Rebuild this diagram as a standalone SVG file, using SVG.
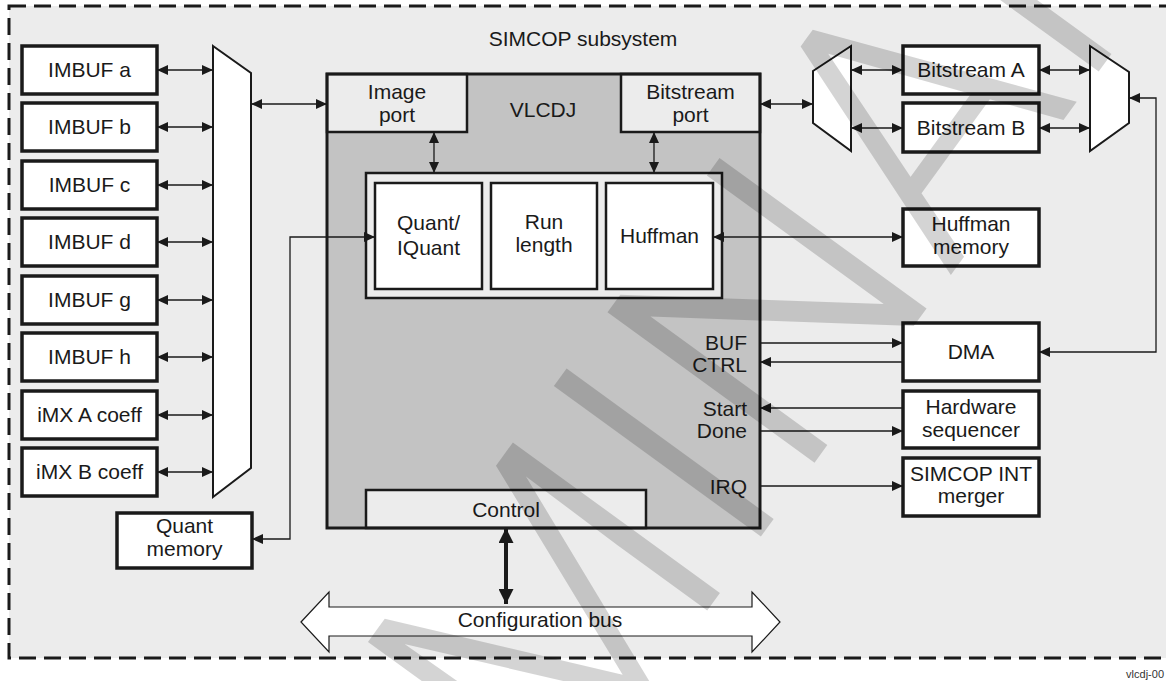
<svg xmlns="http://www.w3.org/2000/svg" width="1166" height="681" viewBox="0 0 1166 681">
<defs>
<style>
.t{font-family:"Liberation Sans",Arial,sans-serif;font-size:21px;fill:#1a1a1a;text-anchor:middle}
.r{text-anchor:end}
.box{fill:#fff;stroke:#1a1a1a;stroke-width:3.5}
.sub{fill:#fff;stroke:#1a1a1a;stroke-width:2.5}
.lt{fill:#ececec;stroke:#1a1a1a;stroke-width:2.5}
.mux{fill:#fff;stroke:#1a1a1a;stroke-width:2}
.ln{fill:none;stroke:#1a1a1a;stroke-width:1.3}
.ab{marker-start:url(#ah);marker-end:url(#ah)}
.ae{marker-end:url(#ah)}
</style>
<marker id="ah" markerUnits="userSpaceOnUse" markerWidth="11" markerHeight="10" refX="11" refY="5" orient="auto-start-reverse" viewBox="0 0 11 10">
<path d="M0,0 L11,5 L0,10 z" fill="#1a1a1a"/>
</marker>
<marker id="ahb" markerUnits="userSpaceOnUse" markerWidth="15" markerHeight="15" refX="15" refY="7.5" orient="auto-start-reverse" viewBox="0 0 15 15">
<path d="M0,0 L15,7.5 L0,15 z" fill="#1a1a1a"/>
</marker>
</defs>

<rect id="bg" x="0" y="0" width="1166" height="681" fill="#fff"/>
<g id="subsystem">
<rect x="9" y="6" width="1175" height="652" fill="#ececec" stroke="#1a1a1a" stroke-width="3" stroke-dasharray="17 8"/>
<text class="t" x="583" y="46">SIMCOP subsystem</text>
</g>

<g id="imbuf-a"><rect class="box" x="22" y="46" width="135" height="48"/><text class="t" x="89.5" y="77">IMBUF a</text></g>
<g id="imbuf-b"><rect class="box" x="22" y="103" width="135" height="48"/><text class="t" x="89.5" y="134">IMBUF b</text></g>
<g id="imbuf-c"><rect class="box" x="22" y="161" width="135" height="48"/><text class="t" x="89.5" y="192">IMBUF c</text></g>
<g id="imbuf-d"><rect class="box" x="22" y="218" width="135" height="48"/><text class="t" x="89.5" y="249">IMBUF d</text></g>
<g id="imbuf-g"><rect class="box" x="22" y="276" width="135" height="48"/><text class="t" x="89.5" y="307">IMBUF g</text></g>
<g id="imbuf-h"><rect class="box" x="22" y="333" width="135" height="48"/><text class="t" x="89.5" y="364">IMBUF h</text></g>
<g id="imx-a"><rect class="box" x="22" y="391" width="135" height="48"/><text class="t" x="89.5" y="422">iMX A coeff</text></g>
<g id="imx-b"><rect class="box" x="22" y="448" width="135" height="48"/><text class="t" x="89.5" y="479">iMX B coeff</text></g>

<g id="mux-left"><polygon class="mux" points="213,46 251,73 251,468 213,497"/></g>

<g id="quant-memory"><rect class="box" x="117" y="513" width="135" height="55"/><text class="t" x="184.5" y="533">Quant</text><text class="t" x="184.5" y="556">memory</text></g>

<g id="vlcdj">
<rect x="327" y="74" width="433" height="454" fill="#c3c3c3"/>
<text class="t" x="543" y="117">VLCDJ</text>
</g>
<g id="image-port"><rect class="lt" x="327" y="74" width="140" height="58"/><text class="t" x="397" y="99">Image</text><text class="t" x="397" y="122">port</text></g>
<g id="bitstream-port"><rect class="lt" x="621" y="74" width="139" height="58"/><text class="t" x="690.5" y="99">Bitstream</text><text class="t" x="690.5" y="122">port</text></g>
<g id="control"><rect class="lt" x="366" y="490" width="280" height="38"/><text class="t" x="506" y="517">Control</text></g>
<g id="vlcdj-border"><rect x="327" y="74" width="433" height="454" fill="none" stroke="#1a1a1a" stroke-width="3"/></g>

<g id="core">
<rect class="lt" x="366" y="173" width="356" height="125"/>
</g>
<g id="quant"><rect class="sub" x="375" y="183" width="107" height="106"/><text class="t" x="428.5" y="230">Quant/</text><text class="t" x="428.5" y="255">IQuant</text></g>
<g id="runlength"><rect class="sub" x="491" y="183" width="106" height="106"/><text class="t" x="544" y="229">Run</text><text class="t" x="544" y="252">length</text></g>
<g id="huffman"><rect class="sub" x="606" y="183" width="107" height="106"/><text class="t" x="659.5" y="243">Huffman</text></g>

<g id="signals">
<text class="t r" x="747" y="350">BUF</text>
<text class="t r" x="747" y="372">CTRL</text>
<text class="t r" x="747" y="416">Start</text>
<text class="t r" x="747" y="438">Done</text>
<text class="t r" x="747" y="494">IRQ</text>
</g>

<g id="mux-bs1"><polygon class="mux" points="813,71 851,46 851,151 813,123"/></g>
<g id="mux-bs2"><polygon class="mux" points="1090,46 1129,72 1129,123 1090,151"/></g>
<g id="bitstream-a"><rect class="box" x="903" y="46" width="136" height="48"/><text class="t" x="971" y="77">Bitstream A</text></g>
<g id="bitstream-b"><rect class="box" x="903" y="103" width="136" height="49"/><text class="t" x="971" y="135">Bitstream B</text></g>
<g id="huffman-memory"><rect class="box" x="903" y="209" width="136" height="57"/><text class="t" x="971" y="231">Huffman</text><text class="t" x="971" y="254">memory</text></g>
<g id="dma"><rect class="box" x="903" y="323" width="136" height="58"/><text class="t" x="971" y="359">DMA</text></g>
<g id="hw-sequencer"><rect class="box" x="903" y="391" width="136" height="57"/><text class="t" x="971" y="414">Hardware</text><text class="t" x="971" y="437">sequencer</text></g>
<g id="int-merger"><rect class="box" x="903" y="458" width="136" height="58"/><text class="t" x="971" y="481">SIMCOP INT</text><text class="t" x="971" y="503">merger</text></g>

<g id="config-bus">
<polygon points="301,622 329,592 329,607 752,607 752,592 780,622 752,652 752,636 329,636 329,652" fill="#fff" stroke="#1a1a1a" stroke-width="1.2"/>
<text class="t" x="540" y="627">Configuration bus</text>
</g>

<g id="connectors">
<line class="ln ab" x1="157" y1="70" x2="213" y2="70"/>
<line class="ln ab" x1="157" y1="127" x2="213" y2="127"/>
<line class="ln ab" x1="157" y1="185" x2="213" y2="185"/>
<line class="ln ab" x1="157" y1="242" x2="213" y2="242"/>
<line class="ln ab" x1="157" y1="300" x2="213" y2="300"/>
<line class="ln ab" x1="157" y1="357" x2="213" y2="357"/>
<line class="ln ab" x1="157" y1="415" x2="213" y2="415"/>
<line class="ln ab" x1="157" y1="472" x2="213" y2="472"/>
<line class="ln ab" x1="251" y1="104" x2="327" y2="104"/>
<line class="ln ab" x1="434" y1="132" x2="434" y2="173"/>
<line class="ln ab" x1="654" y1="132" x2="654" y2="173"/>
<path class="ln ab" d="M252,539 H290 V237 H375"/>
<line class="ln ab" x1="713" y1="237" x2="903" y2="237"/>
<line class="ln ab" x1="760" y1="104" x2="813" y2="104"/>
<line class="ln ab" x1="851" y1="70" x2="903" y2="70"/>
<line class="ln ab" x1="851" y1="128" x2="903" y2="128"/>
<line class="ln ab" x1="1039" y1="70" x2="1090" y2="70"/>
<line class="ln ab" x1="1039" y1="128" x2="1090" y2="128"/>
<path class="ln ab" d="M1039,352 H1156 V98 H1129"/>
<line class="ln ae" x1="760" y1="343" x2="903" y2="343"/>
<line class="ln ae" x1="903" y1="362" x2="760" y2="362"/>
<line class="ln ae" x1="903" y1="408" x2="760" y2="408"/>
<line class="ln ae" x1="760" y1="431" x2="903" y2="431"/>
<line class="ln ae" x1="760" y1="486" x2="903" y2="486"/>
<line x1="506" y1="528" x2="506" y2="604" stroke="#1a1a1a" stroke-width="4" marker-start="url(#ahb)" marker-end="url(#ahb)"/>
</g>

<text id="fig-id" x="1164" y="678" font-family="Liberation Sans,Arial,sans-serif" font-size="11" fill="#333" text-anchor="end">vlcdj-00</text>

<text id="watermark" transform="translate(570,590) rotate(-54)" font-family="Roboto,'Liberation Sans',sans-serif" font-weight="300" font-size="360" fill="#000" fill-opacity="0.17" text-anchor="middle" dominant-baseline="central">PRELIMINARY</text>
</svg>
